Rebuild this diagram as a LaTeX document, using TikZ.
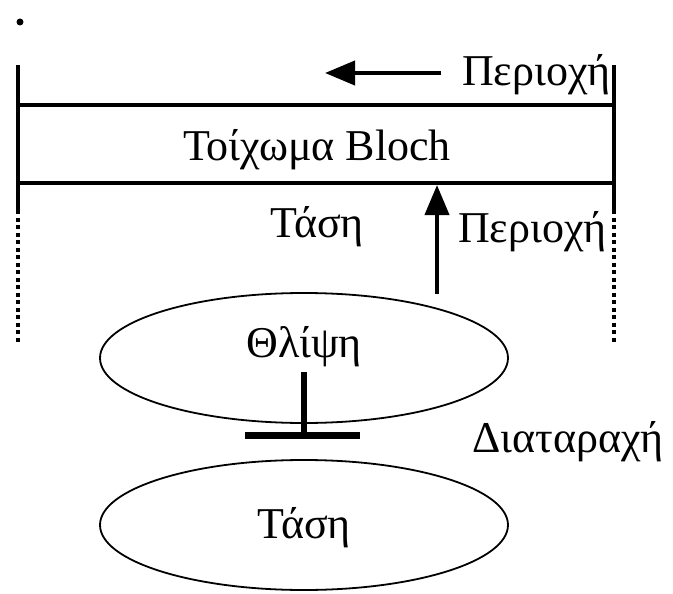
\documentclass[tikz,border=0pt]{standalone}
\usepackage{fontspec}
\setmainfont{Liberation Serif}
\usetikzlibrary{shapes.geometric,arrows.meta}
\begin{document}
\begin{tikzpicture}[x=1pt,y=-1pt,
  lbl/.style={font=\fontsize{44}{48}\selectfont, inner sep=0pt},
  wall/.style={line width=4pt},
  dots/.style={line width=4pt, dash pattern=on 4pt off 3.5pt},
  oval/.style={ellipse, draw, line width=1.8pt, minimum width=408pt, minimum height=130pt, inner sep=0pt},
  bigarrow/.style={line width=4pt, -{Triangle[length=30pt,width=24pt]}},
  barline/.style={line width=7pt}]
\useasboundingbox (0,0) rectangle (673,594);
\fill (20,22) circle (3.5pt);
% frame
\coordinate (lt) at (18,65);
\coordinate (rt) at (614,65);
\coordinate (lm) at (18,210);
\coordinate (rm) at (614,210);
\coordinate (lb) at (18,342);
\coordinate (rb) at (614,342);
\coordinate (t1) at (18,105);
\coordinate (t2) at (614,105);
\coordinate (b1) at (18,183);
\coordinate (b2) at (614,183);
\draw[wall] (lt) -- (lm);
\draw[wall] (rt) -- (rm);
\draw[dots] (lm) -- (lb);
\draw[dots] (rm) -- (rb);
\draw[wall] (t1) -- (t2);
\draw[wall] (b1) -- (b2);
\node[lbl] (wall) at (317,150) {Τοίχωμα Bloch};
\node[lbl, anchor=east] (p1) at (611,75) {Περιοχή};
\coordinate (a1s) at (441,73);
\coordinate (a1e) at (325,73);
\draw[bigarrow] (a1s) -- (a1e);
\node[lbl] (tasi1) at (317,227) {Τάση};
\node[lbl, anchor=west] (p2) at (458,232) {Περιοχή};
\coordinate (a2s) at (437,294);
\coordinate (a2e) at (437,185);
\draw[bigarrow] (a2s) -- (a2e);
\node[oval] (e1) at (304,358) {};
\node[lbl] (thl) at (304,347) {Θλίψη};
\node[oval] (e2) at (304,525) {};
\node[lbl] (tasi2) at (304,528) {Τάση};
\coordinate (tv) at (304,372);
\coordinate (tb) at (304,435);
\coordinate (bl) at (245,435);
\coordinate (br) at (360,435);
\draw[line width=6pt] (tv) -- (tb);
\draw[barline] (bl) -- (br);
\node[lbl, anchor=west] (dia) at (472,442) {Διαταραχή};
\end{tikzpicture}
\end{document}
